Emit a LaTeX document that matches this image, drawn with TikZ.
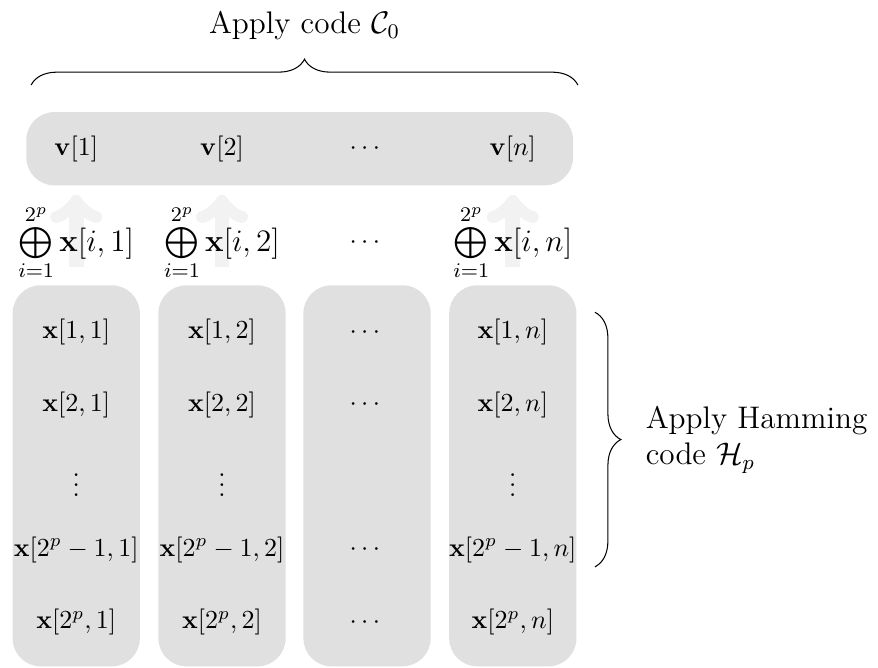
\documentclass[tikz,border=0pt]{standalone}
\usepackage{amsmath,amssymb}
\usetikzlibrary{arrows.meta,positioning,decorations.pathreplacing}
\definecolor{panel}{RGB}{224,224,224}
\definecolor{lift}{RGB}{242,242,242}
\tikzset{
  column/.style={fill=panel, rounded corners=0.38cm, minimum width=1.72cm,
                 minimum height=5.15cm, inner sep=0pt},
  bar/.style={fill=panel, rounded corners=0.38cm, minimum width=7.39cm,
              minimum height=0.99cm, inner sep=0pt},
  cell/.style={inner sep=1pt},
  sumcell/.style={inner sep=1pt, font=\large},
  liftarrow/.style={-{Classical TikZ Rightarrow[length=3.8mm,width=7mm]}, lift,
                    line width=2mm, shorten <=0.24cm, shorten >=0.12cm},
  note/.style={font=\large, align=left, inner sep=0pt},
  curly/.style={decorate, decoration={brace, amplitude=0.35cm}},
}

\begin{document}
\begin{tikzpicture}
    \useasboundingbox (0,0) rectangle (11.865,-9.027);
    % grey panels
    \foreach \k/\x in {1/1.03, 2/3.00, 3/4.96, 4/6.93}
      \node[column] (col\k) at (\x,-6.43) {};
    \node[bar] (vbar) at (4.05,-2.01) {};
    \foreach \k in {1,2,4}
      \draw[liftarrow] (col\k.north) -- (col\k.north |- vbar.south);
    % entries of the columns
    \foreach \k/\x/\j in {1/1.03/1, 2/3.00/2, 4/6.93/n} {
      \node[cell] (x1\k) at (\x,-4.49) {$\mathbf{x}[1,\j]$};
      \node[cell] (x2\k) at (\x,-5.47) {$\mathbf{x}[2,\j]$};
      \node[cell] (x3\k) at (\x,-6.45) {$\vdots$};
      \node[cell] (x4\k) at (\x,-7.43) {$\mathbf{x}[2^p-1,\j]$};
      \node[cell] (x5\k) at (\x,-8.41) {$\mathbf{x}[2^p,\j]$};
      \node[sumcell] (s\k) at (\x,-3.28) {$\bigoplus\limits_{i=1}^{2^p}\mathbf{x}[i,\j]$};
      \node[cell] (v\k) at (\x,-2.01) {$\mathbf{v}[\j]$};
    }
    \foreach \r/\y in {1/-4.49, 2/-5.47, 4/-7.43, 5/-8.41}
      \node[cell] (x\r3) at (4.96,\y) {$\cdots$};
    \node[cell] (s3) at (4.96,-3.28) {$\cdots$};
    \node[cell] (v3) at (4.96,-2.01) {$\cdots$};
    % braces
    \coordinate (tl) at (0.42,-1.15);
    \coordinate (tr) at (7.81,-1.15);
    \draw[curly] (tl) -- (tr) node[midway, above=0.6cm, note] (title) {Apply code $\mathcal{C}_0$};
    \coordinate (rt) at (8.04,-4.22);
    \draw[curly] (rt) -- (rt |- 0,-7.66) node[midway, right=0.68cm, note] (ham) {Apply Hamming\\code $\mathcal{H}_p$};
\end{tikzpicture}
\end{document}
